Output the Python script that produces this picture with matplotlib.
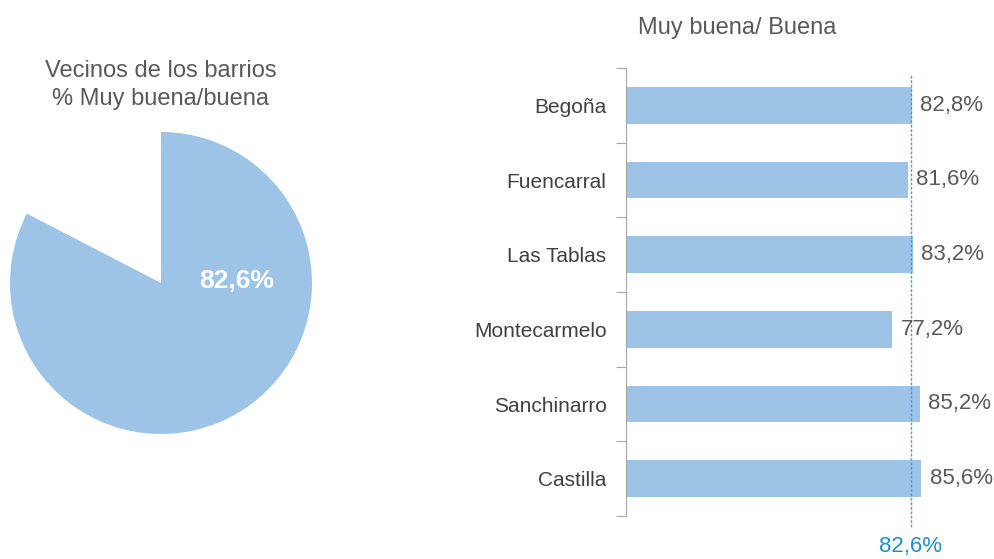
import numpy as np
from matplotlib import pyplot as plt

plt.rcParams['font.family'] = ['Liberation Sans', 'DejaVu Sans']

# datos
barrios = ['Begoña', 'Fuencarral', 'Las Tablas', 'Montecarmelo', 'Sanchinarro', 'Castilla']
valores = [82.8, 81.6, 83.2, 77.2, 85.2, 85.6]
total = 82.6

azul = '#9DC3E6'
gris = '#595959'
W, H = 995, 559

fig = plt.figure(figsize=(9.95, 5.59), dpi=100)

# ---- tarta ----
ax1 = fig.add_axes([10 / W, (H - 434) / H, 302 / W, 302 / H])
ax1.pie([total, 100 - total], colors=[azul, 'none'], startangle=90,
        counterclock=False, radius=1)
ax1.set_xlim(-1, 1)
ax1.set_ylim(-1, 1)
ax1.set_aspect('equal')
ax1.text(0.5, 0.01, f'{total:.1f}%'.replace('.', ','), color='white',
         fontsize=19, fontweight='bold', ha='center', va='center')
fig.text(161 / W, 1 - 85 / H, 'Vecinos de los barrios\n% Muy buena/buena',
         ha='center', va='center', fontsize=17, color=gris, linespacing=1.3)

# ---- barras ----
ax2 = fig.add_axes([626 / W, (H - 516) / H, 345 / W, 448 / H])
y = np.arange(len(barrios))
bars = ax2.barh(y, valores, height=0.49, color=azul)
ax2.set_xlim(0, 100)
ax2.set_ylim(len(barrios) - 0.5, -0.5)
ax2.bar_label(bars, labels=[f'{v:.1f}%'.replace('.', ',') for v in valores],
              padding=6, fontsize=16, color=gris)

ax2.set_yticks(np.arange(-0.5, len(barrios)), labels=[])
ax2.set_yticks(y, labels=barrios, minor=True)
ax2.tick_params(axis='y', which='major', length=7, color='#A6A6A6')
ax2.tick_params(axis='y', which='minor', length=0, pad=14, labelsize=15,
                labelcolor='#404040')
ax2.set_xticks([])
for s in ['top', 'right', 'bottom']:
    ax2.spines[s].set_visible(False)
ax2.spines['left'].set_color('#A6A6A6')

ax2.axvline(total, ymin=-0.025, ymax=0.985, color='#38A2E2', lw=1.0,
            ls=(0, (2, 1.2)), clip_on=False)
ax2.annotate(f'{total:.1f}%'.replace('.', ','), xy=(total, -0.069),
             xycoords=('data', 'axes fraction'), ha='center', va='center',
             fontsize=16, color='#1E8FD2')

fig.text(737 / W, 1 - 28 / H, 'Muy buena/ Buena', ha='center', va='center',
         fontsize=17, color=gris)

fig.savefig('out.png', dpi=100)
